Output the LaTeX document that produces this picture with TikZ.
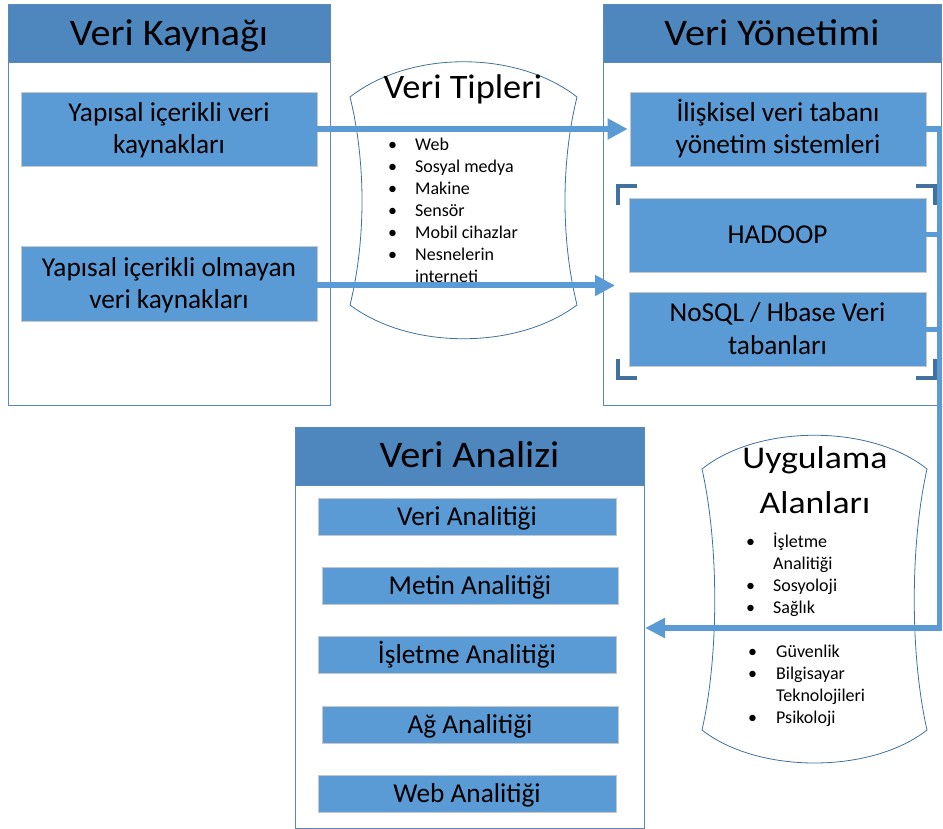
\documentclass[tikz,border=0pt]{standalone}
\usepackage{fontspec}
\usepackage{graphicx}
\setmainfont{Carlito}
\usetikzlibrary{arrows.meta}
\definecolor{hdr}{HTML}{4E86BE}
\definecolor{boxblue}{HTML}{5B9BD5}
\definecolor{cline}{HTML}{5A88BC}
\definecolor{sline}{HTML}{41719C}
\definecolor{brk}{HTML}{41719C}
\definecolor{arr}{HTML}{5B9BD5}
\newcommand\hstretch[2]{\scalebox{#1}[1]{#2}}
\newcommand\twolines[2]{\raisebox{7pt}[0pt][0pt]{\begin{tabular}[t]{@{}c@{}}#1\\#2\end{tabular}}}
\begin{document}
\begin{tikzpicture}[x=1pt,y=-1pt,
  container/.style={draw=cline,line width=1pt,fill=white,inner sep=0pt},
  header/.style={draw=cline,line width=1pt,fill=hdr,inner sep=0pt,minimum height=58pt,
    font=\fontsize{37.5}{46}\selectfont,text height=23.7pt,text depth=0pt},
  bbox/.style={draw=black!22,line width=0.8pt,fill=boxblue,inner sep=0pt,
    font=\fontsize{27.3}{32}\selectfont},
  onel/.style={bbox,text height=17.3pt,text depth=0pt},
  wshape/.style={draw=sline,line width=0.8pt,fill=white},
  ttl/.style={anchor=base,inner sep=0pt},
  bul/.style={anchor=base west,inner sep=0pt,font=\fontsize{18}{22}\selectfont},
  bigarrow/.style={draw=arr,line width=6pt,-{Triangle[length=20pt,width=20pt]}},
  connline/.style={draw=arr,line width=5pt},
  brkline/.style={draw=brk,line width=4pt,line join=miter},
]
\useasboundingbox (0,0) rectangle (943,829);

% containers
\node[container,minimum width=322pt,minimum height=400pt] (vk) at (169,205) {};
\node[header,minimum width=322pt] (vkh) at (169,34) {\hstretch{1.07}{Veri Kaynağı}};
\node[container,minimum width=338pt,minimum height=400pt] (vy) at (772,205) {};
\node[header,minimum width=338pt] (vyh) at (772,34) {\hstretch{1.07}{Veri Yönetimi}};
\node[container,minimum width=349pt,minimum height=401pt] (va) at (469.5,627.5) {};
\node[header,minimum width=349pt] (vah) at (469.5,456) {\hstretch{1.07}{Veri Analizi}};

% boxes
\node[bbox,minimum width=296pt,minimum height=74pt] (b1) at (169,129) {\twolines{Yapısal içerikli veri}{kaynakları}};
\node[bbox,minimum width=296pt,minimum height=75pt] (b2) at (169,283.5) {\twolines{Yapısal içerikli olmayan}{veri kaynakları}};
\node[bbox,minimum width=296pt,minimum height=74pt] (rel) at (778,129) {\twolines{İlişkisel veri tabanı}{yönetim sistemleri}};
\node[onel,minimum width=297pt,minimum height=74pt] (hadoop) at (777.5,235) {HADOOP};
\node[bbox,minimum width=297pt,minimum height=74pt] (nosql) at (777.5,329) {\twolines{NoSQL / Hbase Veri}{tabanları}};

\node[onel,minimum width=298pt,minimum height=37pt] (a1) at (467,516.5) {Veri Analitiği};
\node[onel,minimum width=296pt,minimum height=37pt] (a2) at (470,585.5) {Metin Analitiği};
\node[onel,minimum width=298pt,minimum height=37pt] (a3) at (467,654.5) {İşletme Analitiği};
\node[onel,minimum width=296pt,minimum height=37pt] (a4) at (470,724.5) {Ağ Analitiği};
\node[onel,minimum width=298pt,minimum height=37pt] (a5) at (467,794) {Web Analitiği};

% brackets
\draw[brkline] (618,205) -- (618,186) -- (637,186);
\draw[brkline] (916,186) -- (935,186) -- (935,205);
\draw[brkline] (618,359) -- (618,378) -- (637,378);
\draw[brkline] (916,378) -- (935,378) -- (935,359);

% curved shapes
\draw[wshape] (350,97) .. controls (410,50) and (517,50) .. (577,97)
  .. controls (561,162) and (561,240) .. (577,305)
  .. controls (517,350) and (410,350) .. (350,305)
  .. controls (366,240) and (366,162) .. (350,97) -- cycle;
\draw[wshape] (702,469) .. controls (758,424) and (871,424) .. (927,469)
  .. controls (910,545) and (910,655) .. (927,730)
  .. controls (871,774) and (758,774) .. (702,730)
  .. controls (719,655) and (719,545) .. (702,469) -- cycle;

% titles
\node[ttl,font=\fontsize{34.3}{42}\selectfont] (vtt) at (463,98.3) {\hstretch{1.06}{Veri Tipleri}};
\node[ttl,font=\fontsize{31.6}{44}\selectfont] (uat1) at (815,468.3) {\hstretch{1.13}{Uygulama}};
\node[ttl,font=\fontsize{31.6}{44}\selectfont] (uat2) at (815,513) {\hstretch{1.13}{Alanları}};

% lists
\node[bul] (vt1) at (388,150.7) {\makebox[27pt][l]{•}Web};
\node[bul] (vt2) at (388,172.7) {\makebox[27pt][l]{•}Sosyal medya};
\node[bul] (vt3) at (388,194.7) {\makebox[27pt][l]{•}Makine};
\node[bul] (vt4) at (388,216.7) {\makebox[27pt][l]{•}Sensör};
\node[bul] (vt5) at (388,238.7) {\makebox[27pt][l]{•}Mobil cihazlar};
\node[bul] (vt6) at (388,260.7) {\makebox[27pt][l]{•}Nesnelerin};
\node[bul] (vt7) at (415,282.7) {interneti};

\node[bul] (ua1) at (746,547) {\makebox[27pt][l]{•}İşletme};
\node[bul] (ua2) at (773,569) {Analitiği};
\node[bul] (ua3) at (746,591) {\makebox[27pt][l]{•}Sosyoloji};
\node[bul] (ua4) at (746,613) {\makebox[27pt][l]{•}Sağlık};
\node[bul] (ua5) at (748,657) {\makebox[28pt][l]{•}Güvenlik};
\node[bul] (ua6) at (748,679) {\makebox[28pt][l]{•}Bilgisayar};
\node[bul] (ua7) at (776,701) {Teknolojileri};
\node[bul] (ua8) at (748,723) {\makebox[28pt][l]{•}Psikoloji};

% arrows
\coordinate (a2end) at (615,285.5);
\coordinate (cr) at (939.5,628);
\coordinate (vatip) at (645,628);
\draw[bigarrow,shorten >=2pt] (b1.east) -- (rel.west);
\draw[bigarrow] (b2.east |- a2end) -- (a2end);
\draw[connline] (hadoop.east) -- (hadoop.east -| cr);
\draw[connline] (nosql.east) -- (nosql.east -| cr);
\draw[connline,line width=5.5pt,-{Triangle[length=20pt,width=19pt]}] (rel.east) -| (cr) -- (vatip);
\end{tikzpicture}
\end{document}
